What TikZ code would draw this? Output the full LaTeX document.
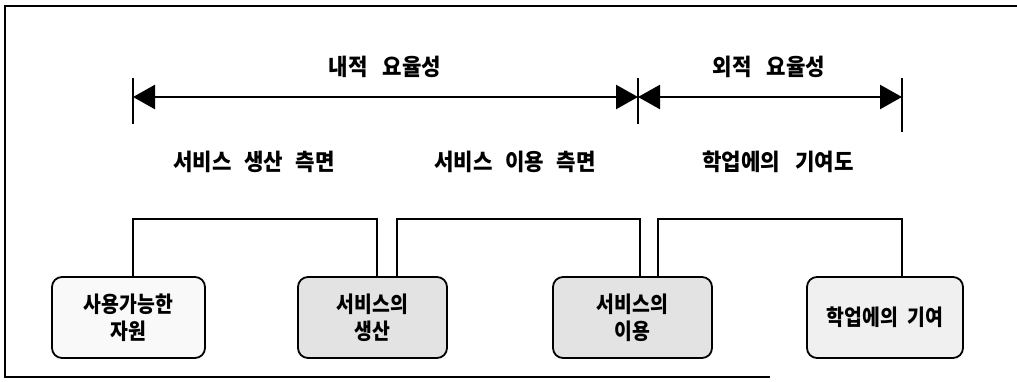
\documentclass[tikz,border=0pt]{standalone}
\usepackage{fontspec}
\newfontfamily\krl{Noto Sans CJK KR}[FakeStretch=0.92]
\newfontfamily\krb{Noto Sans CJK KR}[FakeStretch=0.88]
\newcommand{\lblfont}{\krl\bfseries\fontsize{23}{26}\selectfont}
\newcommand{\boxfont}{\krb\bfseries\fontsize{22}{30}\selectfont}
\usetikzlibrary{arrows.meta,calc}
\begin{document}
\begin{tikzpicture}[x=1pt,y=-1pt,
  lbl/.style={inner sep=0pt},
  box/.style={draw, line width=1.8pt, rounded corners=10pt, minimum height=81pt,
    align=center, inner sep=0pt},
  br/.style={line width=1.8pt},
  tick/.style={line width=1.6pt},
  arr/.style={line width=2.5pt, {Triangle[length=22pt,width=24pt]}-{Triangle[length=22pt,width=24pt]}},
  frame/.style={line width=2pt}]
\useasboundingbox (0,0) rectangle (1017,382);
% frame
\draw[frame] (1017,6) -- (5,6) -- (5,377) -- (770,377);
% top labels
\node[lbl] (t1) at (385,67) {\lblfont 내적\hspace{0.65em}요율성};
\node[lbl] (t2) at (769,67) {\lblfont 외적\hspace{0.65em}요율성};
% arrow points
\coordinate (pL) at (133,97);
\coordinate (pM) at (638,97);
\coordinate (pR) at (902,97);
\draw[tick] (pL) ++(0,-19) -- ++(0,46);
\draw[tick] (pM) ++(0,-19) -- ++(0,46);
\draw[tick] (pR) ++(0,-19) -- ++(0,54);
\draw[arr] (pL) -- (pM);
\draw[arr] (pM) -- (pR);
% middle labels
\node[lbl] (m1) at (254,162) {\lblfont 서비스\hspace{0.55em}생산\hspace{0.55em}측면};
\node[lbl] (m2) at (515,162) {\lblfont 서비스\hspace{0.55em}이용\hspace{0.55em}측면};
\node[lbl] (m3) at (778,162) {\lblfont 학업에의\hspace{0.65em}기여도};
% boxes
\node[box, fill=gray!5,  minimum width=153pt] (b1) at (128.5,317.5) {\boxfont 사용가능한\\[5pt]\boxfont 자원};
\node[box, fill=gray!22, minimum width=149pt] (b2) at (372.5,317.5) {\boxfont 서비스의\\[5pt]\boxfont 생산};
\node[box, fill=gray!22, minimum width=159pt] (b3) at (632.5,317.5) {\boxfont 서비스의\\[5pt]\boxfont 이용};
\node[box, fill=gray!12, minimum width=156pt] (b4) at (885,317.5) {\boxfont 학업에의\hspace{0.45em}기여};
% brackets
\coordinate (k1a) at (133,219);
\coordinate (k1b) at (377,219);
\coordinate (k2a) at (397,219);
\coordinate (k2b) at (640,219);
\coordinate (k3a) at (658,219);
\coordinate (k3b) at (902,219);
\draw[br] (k1a |- b1.north) -- (k1a) -- (k1b) -- (k1b |- b2.north);
\draw[br] (k2a |- b2.north) -- (k2a) -- (k2b) -- (k2b |- b3.north);
\draw[br] (k3a |- b3.north) -- (k3a) -- (k3b) -- (k3b |- b4.north);
\end{tikzpicture}
\end{document}
